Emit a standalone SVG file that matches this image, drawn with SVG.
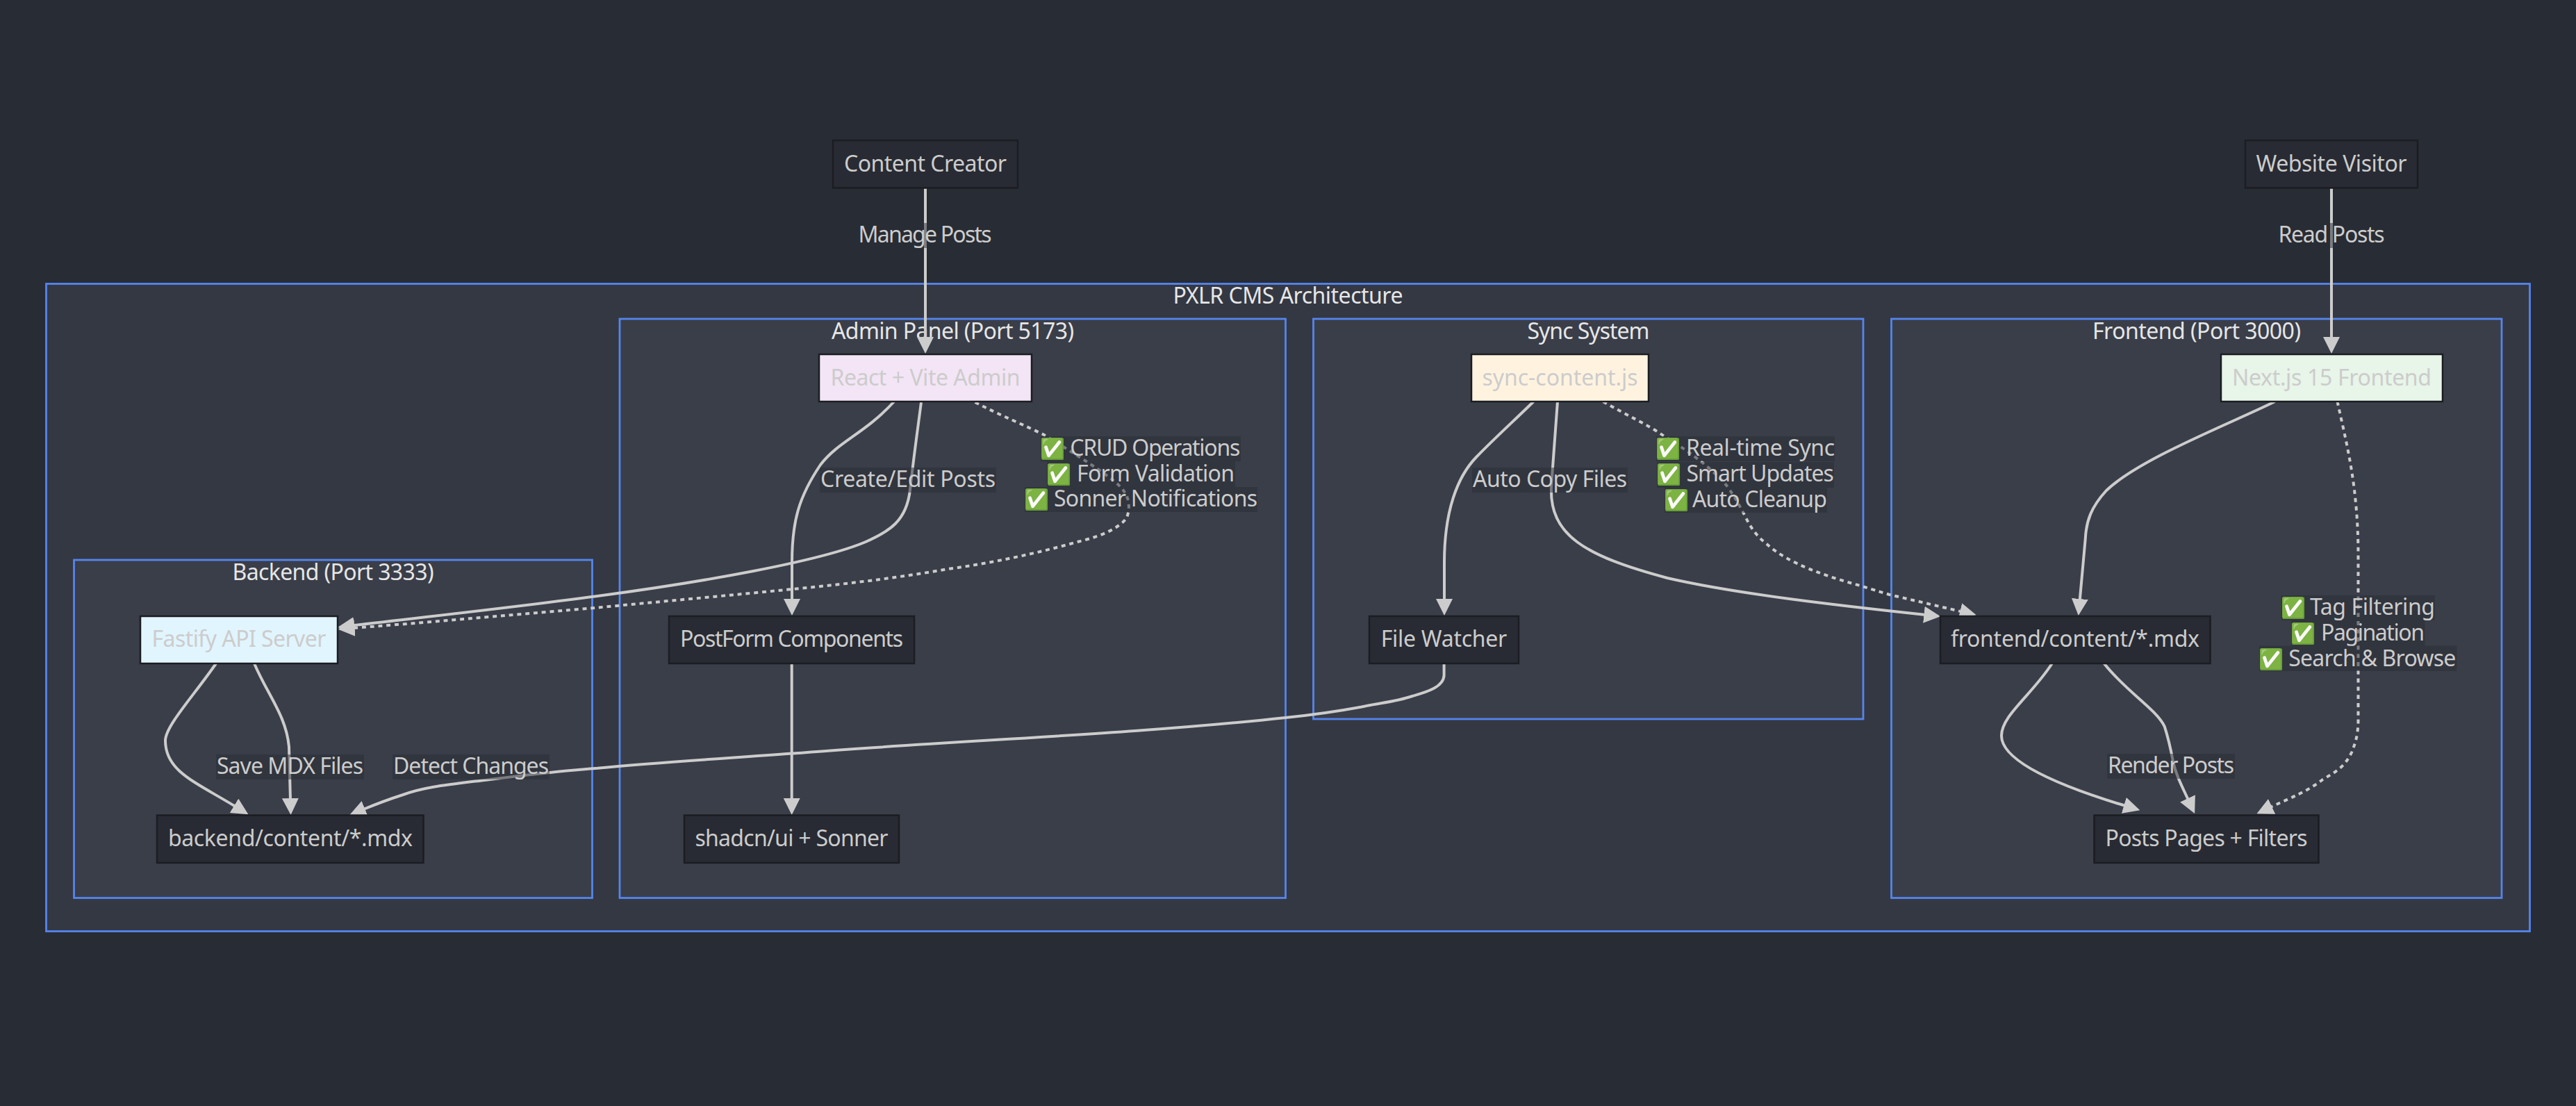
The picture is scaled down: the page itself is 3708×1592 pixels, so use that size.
<svg xmlns="http://www.w3.org/2000/svg" width="3708" height="1592" viewBox="0 0 3708 1592">
<style>
text{font-family:"Noto Sans","DejaVu Sans",sans-serif;font-size:32px;text-anchor:middle;fill:#ccc}
.title{fill:#e6e6e6}
.em{text-anchor:start}
.e{font-size:29px}
.cl{stroke:#5585ee;stroke-width:2.8}
.c0{fill:#343843}
.c1{fill:#3a3e49}
.n{fill:#282b33;stroke:#1b1d22;stroke-width:2.5}
.lb{fill:#282c34;fill-opacity:.5}
.ed{fill:none;stroke:#ccc;stroke-width:4;marker-end:url(#arrow)}
.dot{stroke-dasharray:5.9 5.9}
</style>
<defs>
<marker id="arrow" viewBox="0 0 10 10" refX="1" refY="5" markerUnits="userSpaceOnUse" markerWidth="24" markerHeight="24" orient="auto"><path d="M0 0L10 5L0 10z" fill="#ccc"/></marker>
</defs>
<rect width="3708" height="1592" fill="#282c34"/>
<g id="clusters">
<g id="cms"><rect class="cl c0" x="66.5" y="408.5" width="3575" height="932"/><text class="title" x="1854" y="437" textLength="331">PXLR CMS Architecture</text></g>
<g id="backend"><rect class="cl c1" x="106.5" y="806" width="746" height="486.5"/><text class="title" x="479.5" y="835" textLength="290">Backend (Port 3333)</text></g>
<g id="admin"><rect class="cl c1" x="892" y="459" width="958.5" height="833.5"/><text class="title" x="1371.5" y="487.5" textLength="349">Admin Panel (Port 5173)</text></g>
<g id="sync"><rect class="cl c1" x="1890.5" y="459" width="791.5" height="576"/><text class="title" x="2286.5" y="487.5" textLength="176">Sync System</text></g>
<g id="frontend"><rect class="cl c1" x="2722.5" y="459" width="878.5" height="833.5"/><text class="title" x="3162" y="487.5" textLength="300">Frontend (Port 3000)</text></g>
</g>
<g id="connectors">
<path class="ed" d="M1332 270V487.4"/>
<path class="ed" d="M3356 270V487.4"/>
<path class="ed" d="M1287 578C1245 624 1207 635 1181 669C1150 715 1140 750 1140 810V864.4"/>
<path class="ed" d="M1326 579C1320 625 1315 660 1310 705C1305 750 1280 765 1246 780C1180 808 1010 838 860 858C740 874 620 887 507.5 900.4"/>
<path class="ed dot" d="M1403.6 579C1440 598 1475 612 1503 626C1550 655 1590 680 1610 698C1625 712 1628 728 1622 745C1612 760 1585 772 1551 780C1490 797 1430 810 1365 819C1290 832 1215 841 1140.6 848C1050 857 950 866 860 874.6C760 883 640 894 508 904"/>
<path class="ed" d="M311 955C280 1000 238 1045 238 1066C238 1110 280 1125 339 1161"/>
<path class="ed" d="M366 955C385 1000 412 1030 416 1075L418 1151.4"/>
<path class="ed" d="M2078.6 955V972C2078 990 2050 997 2033 1002C2010 1010 1985 1012 1960 1017.5C1925 1024 1890 1029 1850.5 1033C1620 1058 1370 1066 1140.6 1084.6C1040 1092 950 1097 860 1105.7C800 1110 760 1115 697.8 1122.9C640 1130 610 1133 580 1144C555 1152 540 1158 523 1165"/>
<path class="ed" d="M2207.5 578C2180 605 2152 630 2125 658C2098 686 2079 735 2079 810V864.4"/>
<path class="ed" d="M2242 578L2233 700C2230 770 2280 800 2400 832C2500 855 2650 872 2771.8 885"/>
<path class="ed dot" d="M2307.5 578C2340 597 2370 610 2395 627.5C2440 655 2470 680 2487 701C2500 720 2505 730 2512.6 744C2520 760 2530 773 2543 783C2575 812 2630 830 2680 843.6C2700 850 2710 853 2720 856L2823.7 880.4"/>
<path class="ed" d="M3274.6 578C3210 610 3080 660 3032 706C3010 730 3003 750 3001.8 775L2993.7 864.4"/>
<path class="ed dot" d="M3364.5 578C3378 640 3394.5 700 3394.5 800V1039C3394 1060 3390 1070 3385.5 1082C3375 1105 3360 1112 3343.5 1122C3320 1140 3300 1147 3268 1162"/>
<path class="ed" d="M2953.8 955C2925 1000 2881 1030 2881 1059C2881 1095 2960 1130 3059.6 1160"/>
<path class="ed" d="M3028.7 955C3060 995 3103 1020 3115.7 1045.6C3122 1065 3125 1080 3128 1096C3132 1115 3140 1130 3150 1151.5"/>
<path class="ed" d="M1139.7 955V1151.4"/>
</g>
<g id="edge-labels">
<rect class="lb" x="1235" y="321" width="193" height="36"/><text x="1331.5" y="349" textLength="192">Manage Posts</text>
<rect class="lb" x="3279" y="321" width="154" height="36"/><text x="3356" y="349" textLength="153">Read Posts</text>
<rect class="lb" x="1180" y="673" width="254" height="36"/><text x="1307" y="701" textLength="252">Create/Edit Posts</text>
<rect class="lb" x="2119" y="673" width="224" height="36"/><text x="2231" y="701" textLength="222">Auto Copy Files</text>
<rect class="lb" x="311" y="1086" width="213" height="36"/><text x="417.5" y="1114" textLength="211">Save MDX Files</text>
<rect class="lb" x="565" y="1086" width="226" height="36"/><text x="678" y="1114" textLength="224">Detect Changes</text>
<rect class="lb" x="3033" y="1085" width="184" height="36"/><text x="3125" y="1113" textLength="182">Render Posts</text>
<rect class="lb" x="1498" y="628" width="288" height="36"/><text class="em" y="656"><tspan class="e" x="1497">✅</tspan><tspan x="1540.3" textLength="245">CRUD Operations</tspan></text>
<rect class="lb" x="1507" y="664" width="271" height="37"/><text class="em" y="692.5"><tspan class="e" x="1506">✅</tspan><tspan x="1550" textLength="227">Form Validation</tspan></text>
<rect class="lb" x="1475" y="701" width="335" height="36"/><text class="em" y="729"><tspan class="e" x="1474">✅</tspan><tspan x="1517" textLength="293">Sonner Notifications</tspan></text>
<rect class="lb" x="2384" y="628" width="257" height="36"/><text class="em" y="656"><tspan class="e" x="2383">✅</tspan><tspan x="2427" textLength="214">Real-time Sync</tspan></text>
<rect class="lb" x="2385" y="665" width="255" height="37"/><text class="em" y="692.5"><tspan class="e" x="2384">✅</tspan><tspan x="2427.4" textLength="212.5">Smart Updates</tspan></text>
<rect class="lb" x="2396" y="702" width="234" height="36"/><text class="em" y="729.5"><tspan class="e" x="2395">✅</tspan><tspan x="2436" textLength="194">Auto Cleanup</tspan></text>
<rect class="lb" x="3283.5" y="857" width="221.5" height="36"/><text class="em" y="885"><tspan class="e" x="3283">✅</tspan><tspan x="3325" textLength="180">Tag Filtering</tspan></text>
<rect class="lb" x="3298.5" y="893" width="192" height="36.5"/><text class="em" y="921.5"><tspan class="e" x="3297">✅</tspan><tspan x="3341" textLength="149">Pagination</tspan></text>
<rect class="lb" x="3252" y="929.5" width="284.5" height="36.5"/><text class="em" y="959"><tspan class="e" x="3251">✅</tspan><tspan x="3294.3" textLength="241">Search &amp; Browse</tspan></text>
</g>
<g id="content-creator"><rect class="n" x="1199" y="202" width="266" height="68.5"/><text x="1332" y="246.5" textLength="234">Content Creator</text></g>
<g id="website-visitor"><rect class="n" x="3232" y="202" width="248" height="68.5"/><text x="3356" y="246.5" textLength="217">Website Visitor</text></g>
<g id="react-admin"><rect class="n" style="fill:#f3e5f5" x="1179" y="510" width="306" height="68"/><text x="1332" y="554.5" textLength="273">React + Vite Admin</text></g>
<g id="sync-content"><rect class="n" style="fill:#fff3e0" x="2118" y="510" width="255" height="68"/><text x="2245.5" y="554.5" textLength="224">sync-content.js</text></g>
<g id="next-frontend"><rect class="n" style="fill:#e8f5e9" x="3197" y="510" width="319" height="68"/><text x="3356.5" y="554.5" textLength="287">Next.js 15 Frontend</text></g>
<g id="fastify"><rect class="n" style="fill:#e1f5fe" x="202" y="887" width="284" height="68"/><text x="344" y="931" textLength="251">Fastify API Server</text></g>
<g id="postform"><rect class="n" x="963" y="887" width="353" height="68"/><text x="1139.5" y="931" textLength="321">PostForm Components</text></g>
<g id="file-watcher"><rect class="n" x="1971" y="887" width="215" height="68"/><text x="2078.5" y="931" textLength="181.5">File Watcher</text></g>
<g id="frontend-content"><rect class="n" x="2793" y="887" width="388.5" height="68"/><text x="2987" y="931" textLength="358">frontend/content/*.mdx</text></g>
<g id="backend-content"><rect class="n" x="226" y="1173.5" width="383.5" height="68.5"/><text x="418" y="1218" textLength="352">backend/content/*.mdx</text></g>
<g id="shadcn"><rect class="n" x="985" y="1173.5" width="309" height="68.5"/><text x="1139.5" y="1218" textLength="278">shadcn/ui + Sonner</text></g>
<g id="posts-pages"><rect class="n" x="3014.5" y="1173.5" width="323" height="68.5"/><text x="3176" y="1218" textLength="291">Posts Pages + Filters</text></g>
</svg>
